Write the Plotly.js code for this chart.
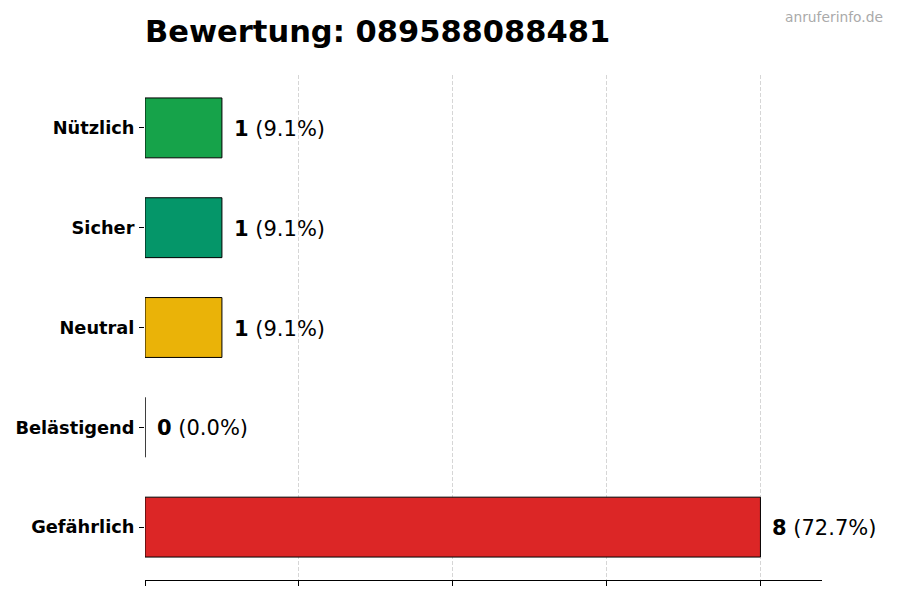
<!DOCTYPE html>
<html>
<head>
<meta charset="utf-8">
<script src="https://cdn.plot.ly/plotly-3.0.1.min.js"></script>
<style>html,body{margin:0;padding:0;background:#fff;}#chart{width:900px;height:600px;}</style>
</head>
<body>
<div id="chart"></div>
<script>
// Data (top to bottom)
const categories = ["Nützlich", "Sicher", "Neutral", "Belästigend", "Gefährlich"];
const counts = [1, 1, 1, 0, 8];
const barColors = ["#16a34a", "#059669", "#eab308", "#ea580c", "#dc2626"];
const xTicks = [0, 2, 4, 6, 8];
const titleText = "Bewertung: 089588088481";
const watermark = "anruferinfo.de";

const total = counts.reduce((a, b) => a + b, 0);
const font = "DejaVu Sans, sans-serif";

const trace = {
  type: "bar",
  orientation: "h",
  x: counts,
  y: categories,
  width: 0.6,
  marker: { color: barColors, line: { color: "#000", width: 1 } },
  hoverinfo: "none"
};

const annotations = categories.map((c, i) => ({
  x: counts[i],
  y: c,
  xref: "x",
  yref: "y",
  xanchor: "left",
  yanchor: "middle",
  xshift: 10,
  yshift: -1,
  showarrow: false,
  text: "<b>" + counts[i] + "</b> (" + (counts[i] / total * 100).toFixed(1) + "%)",
  font: { family: font, size: 21, color: "#000" }
}));

annotations.push({
  xref: "paper", yref: "paper",
  x: 1 + 63 / 677, y: 1 + 58 / 505,
  xanchor: "right", yanchor: "middle",
  showarrow: false,
  text: watermark,
  font: { family: font, size: 13.8, color: "#aaaaaa" }
});

const layout = {
  width: 900,
  height: 600,
  paper_bgcolor: "#fff",
  plot_bgcolor: "#fff",
  margin: { l: 145, r: 78, t: 75, b: 20 },
  showlegend: false,
  title: {
    text: "<b>" + titleText + "</b>",
    font: { family: font, size: 30.5, color: "#000" },
    x: 145 / 900, xanchor: "left",
    y: 1 - 31 / 600, yanchor: "middle"
  },
  xaxis: {
    range: [0, 8.8],
    tickvals: xTicks,
    showticklabels: false,
    ticks: "outside",
    ticklen: 5,
    tickcolor: "#000",
    tickwidth: 1,
    showline: true,
    linecolor: "#000",
    linewidth: 1.2,
    showgrid: true,
    gridcolor: "#cccccc",
    griddash: "4px,2px",
    gridwidth: 0.8,
    zeroline: false,
    fixedrange: true
  },
  yaxis: {
    type: "category",
    categoryorder: "array",
    categoryarray: categories,
    range: [4.53, -0.53],
    ticks: "outside",
    ticklen: 5,
    tickcolor: "#000",
    ticklabelstandoff: 1,
    showline: false,
    showgrid: false,
    zeroline: false,
    tickfont: { family: font, size: 17.8, color: "#000", weight: "bold" },
    fixedrange: true
  },
  annotations: annotations
};

Plotly.newPlot("chart", [trace], layout, { displayModeBar: false, staticPlot: true });
</script>
</body>
</html>
